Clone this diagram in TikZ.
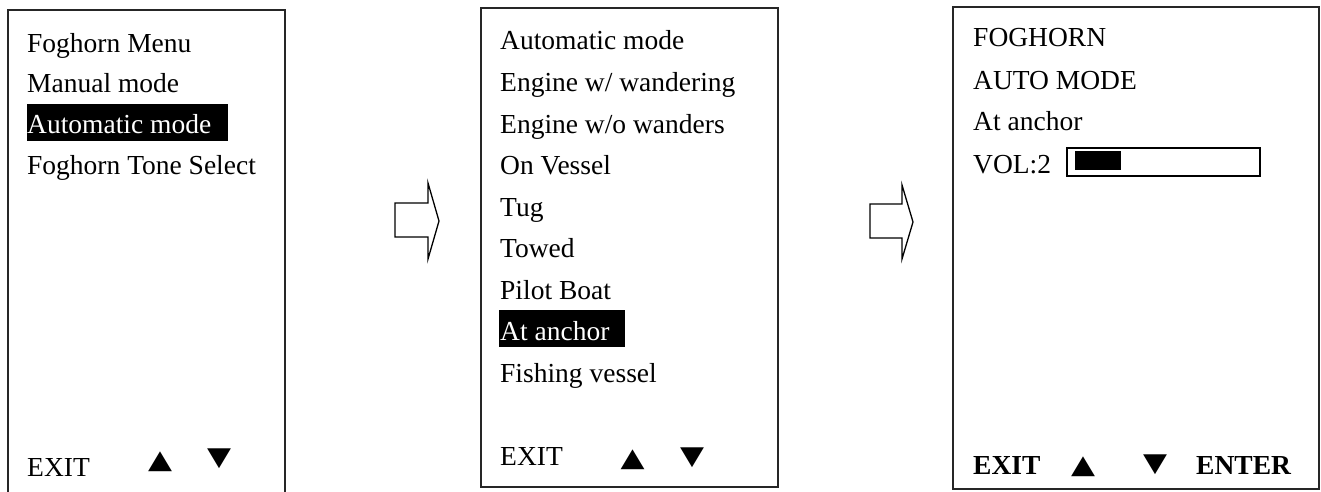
\documentclass[tikz,border=0pt]{standalone}
\usepackage{fontspec}
\usepackage{graphicx}
\setmainfont{Liberation Serif}
\newfontfamily\symfont{DejaVu Sans}
\newcommand{\wtri}[1]{\scalebox{1.2}[1]{#1}}
\begin{document}
\begin{tikzpicture}[x=1pt,y=-1pt,
  frame/.style={draw=black!85,line width=1.5pt},
  txt/.style={anchor=base west,inner sep=0pt,font=\fontsize{27.5}{30}\selectfont},
  hltxt/.style={txt,text=white},
  btxt/.style={txt,font=\fontsize{27.5}{30}\selectfont\bfseries},
  tri/.style={anchor=base,inner sep=0pt,font=\symfont\fontsize{26}{28}\selectfont},
  bigarrow/.style={draw=black,line width=1.3pt,line join=miter,fill=white}]
\useasboundingbox (0,0) rectangle (1321,492);
% frames
\draw[frame] (8,500) -- (8,10) -- (285,10) -- (285,500);
\draw[frame] (481,8) rectangle (778,487);
\draw[frame] (953,7) rectangle (1319,489);
% panel 1
\fill (27,104) rectangle (228,141);
\node[txt] (a1) at (27,52.5) {Foghorn Menu};
\node[txt] (a2) at (27,92.5) {Manual mode};
\node[hltxt] (a3) at (27,133) {Automatic mode};
\node[txt] (a4) at (27,174.5) {Foghorn Tone Select};
\node[txt] (a5) at (27,476) {EXIT};
\node[tri] (a6) at (160,468) {\wtri{▲}};
\node[tri] (a7) at (219,465) {\wtri{▼}};
% arrow 1
\draw[bigarrow] (395,203) -- (428,203) -- (428,183) -- (439,221) -- (428,259) -- (428,237) -- (395,237) -- cycle;
% panel 2
\fill (499,310) rectangle (625,347);
\node[txt] (b1) at (500,50) {Automatic mode};
\node[txt] (b2) at (500,91.5) {Engine w/ wandering};
\node[txt] (b3) at (500,133) {Engine w/o wanders};
\node[txt] (b4) at (500,174.5) {On Vessel};
\node[txt] (b5) at (500,216) {Tug};
\node[txt] (b6) at (500,257.5) {Towed};
\node[txt] (b7) at (500,299) {Pilot Boat};
\node[hltxt] (b8) at (500,340.5) {At anchor};
\node[txt] (b9) at (500,382) {Fishing vessel};
\node[txt] (b10) at (500,465) {EXIT};
\node[tri] (b11) at (632.5,466) {\wtri{▲}};
\node[tri] (b12) at (692,464) {\wtri{▼}};
% arrow 2
\draw[bigarrow] (870,204) -- (902,204) -- (902,185) -- (913,222) -- (902,259) -- (902,238) -- (870,238) -- cycle;
% panel 3
\node[txt] (c1) at (973,47) {FOGHORN};
\node[txt] (c2) at (973,89.5) {AUTO MODE};
\node[txt] (c3) at (973,131) {At anchor};
\node[txt] (c4) at (973,173) {VOL:2};
\draw[black,line width=1.2pt] (1067,148) rectangle (1260,176);
\fill (1075,150.5) rectangle (1121,170);
\node[btxt] (c5) at (973,474) {EXIT};
\node[tri] (c6) at (1083,473) {\wtri{▲}};
\node[tri] (c7) at (1155,471) {\wtri{▼}};
\node[btxt] (c8) at (1196,474) {ENTER};
\end{tikzpicture}
\end{document}
